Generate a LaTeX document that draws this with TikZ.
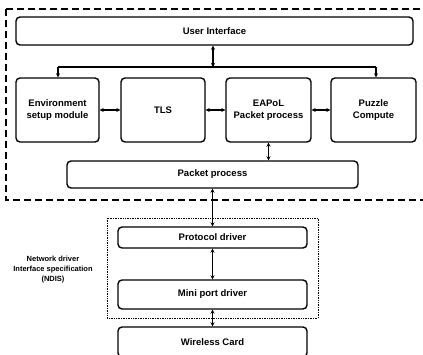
\documentclass[tikz,border=0pt]{standalone}
\usepackage{fontspec}
\setmainfont{Liberation Sans}
\usetikzlibrary{arrows.meta}
\tikzset{
  blk/.style={draw, line width=1.4pt, rounded corners=4pt, font=\fontsize{9.5}{11.5}\selectfont\bfseries, align=center, inner sep=0pt},
  lnk/.style={line width=1.3pt, {Stealth[length=4pt,width=4pt]}-{Stealth[length=4pt,width=4pt]}},
}
\begin{document}
\begin{tikzpicture}[x=1pt,y=-1pt]
			\useasboundingbox (0,0) rectangle (423,355);
		
			% application part
			\draw[dashed, line width=1.4pt, dash pattern=on 7pt off 4pt] (6,9) rectangle (440,200);
			\node[blk, minimum width=397pt, minimum height=28pt] (ui) at (214.5,31){User Interface};
			\node[blk, minimum width=83pt, minimum height=64pt] (env) at (57.5,110){Environment\\setup module};
			\node[blk, minimum width=84pt, minimum height=64pt] (tls) at (163,110){TLS};
			\node[blk, minimum width=85pt, minimum height=64pt] (eap) at (268.5,110){EAPoL\\Packet process};
			\node[blk, minimum width=85pt, minimum height=64pt] (puz) at (373.5,110){Puzzle\\Compute};
			\node[blk, minimum width=291pt, minimum height=27pt] (pkt) at (212.5,174.5){Packet process};
			\coordinate (busl) at (58,67);
			\coordinate (busr) at (376,67);
			\coordinate (busm) at (213,67);
			
			\draw[lnk] (ui.south -| busm) -- (busm);
			\draw[line width=1.3pt] (busl) -- (busr);
			\draw[line width=1.3pt, -{Stealth[length=4pt,width=4pt]}] (busl) -- (busl |- env.north);
			\draw[line width=1.3pt, -{Stealth[length=4pt,width=4pt]}] (busr) -- (busr |- puz.north);
			\draw[lnk] (env.east) -- (tls.west);
			\draw[lnk] (tls.east) -- (eap.west);
			\draw[lnk] (eap.east) -- (puz.west);
			\draw[lnk] (eap.south) -- (eap.south |- pkt.north);
			
			% NDIS part
			\draw[densely dotted, line width=0.7pt] (107,218) rectangle (318,318);
			\node[font=\fontsize{7.5}{10}\selectfont\bfseries, align=center] (ndis) at (53,270){Network driver\\Interface specification\\(NDIS)};
			\node[blk, minimum width=189pt, minimum height=21pt] (prot) at (212.5,237.5){Protocol driver};
			\node[blk, minimum width=189pt, minimum height=29pt] (mini) at (212.5,294.5){Mini port driver};
			\node[blk, minimum width=189pt, minimum height=30pt] (wlc) at (212.5,342){Wireless Card};
			
			\draw[lnk] (pkt.south) -- (prot.north);
			\draw[lnk] (prot.south) -- (mini.north);
			\draw[lnk] (mini.south) -- (wlc.north);
		\end{tikzpicture}
\end{document}
